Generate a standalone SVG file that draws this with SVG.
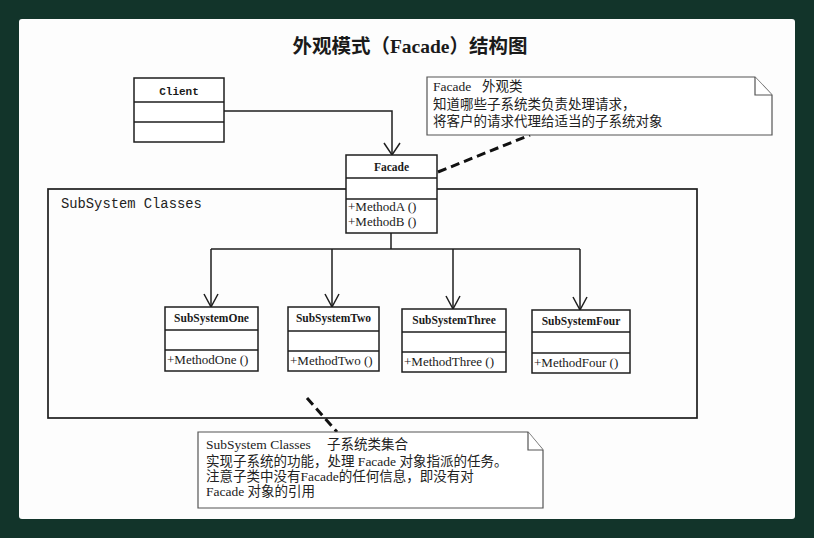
<svg xmlns="http://www.w3.org/2000/svg" width="814" height="538" viewBox="0 0 814 538">
<style>
.box{fill:#fff;stroke:#1e1e1e;stroke-width:1.5}
.ln{stroke:#1e1e1e;stroke-width:1.5;fill:none}
.pkg{fill:none;stroke:#1e1e1e;stroke-width:1.7}
.name{font-family:"Liberation Serif","Noto Sans CJK SC",serif;font-weight:bold;font-size:11.5px;text-anchor:middle;fill:#1a1a1a}
.meth{font-family:"Liberation Serif",serif;font-size:13px;fill:#1a1a1a}
.note{fill:#fff;stroke:#555;stroke-width:1.2}
.nt{font-family:"Liberation Serif","Noto Sans CJK SC",serif;font-size:13.5px;fill:#222}
.dash{stroke:#111;stroke-width:3;stroke-dasharray:9 5;fill:none}
.title{font-family:"Liberation Serif","Noto Sans CJK SC",serif;font-weight:bold;font-size:19.5px;fill:#1a1a1a;text-anchor:middle}
</style>
<rect x="0" y="0" width="814" height="538" fill="#12342a"/>
<rect x="19" y="19" width="776" height="500" rx="3" fill="#fdfdfd"/>

<text class="title" x="410" y="53">外观模式（Facade）结构图</text>

<g id="package">
<rect class="pkg" x="48" y="189" width="649" height="229"/>
<text x="61" y="208" font-family="Liberation Mono, monospace" font-size="13.8px" fill="#222">SubSystem Classes</text>
</g>

<g id="connectors">
<polyline class="ln" points="224,111 392,111 392,155"/>
<polyline class="ln" points="384,143 392,155 400,143"/>
<polyline class="ln" points="391,233 391,249"/>
<polyline class="ln" points="211,249 580,249"/>
<polyline class="ln" points="211,249 211,307"/>
<polyline class="ln" points="332,249 332,307"/>
<polyline class="ln" points="453,249 453,309"/>
<polyline class="ln" points="580,249 580,310"/>
<polyline class="ln" points="204,294 211,307 218,294"/>
<polyline class="ln" points="325,294 332,307 339,294"/>
<polyline class="ln" points="446,296 453,309 460,296"/>
<polyline class="ln" points="573,297 580,310 587,297"/>
<line class="dash" x1="438" y1="172" x2="530" y2="135"/>
<line class="dash" x1="307" y1="398" x2="337" y2="432"/>
</g>

<g id="client">
<rect class="box" x="134" y="78" width="90" height="64"/>
<line class="ln" x1="134" y1="102" x2="224" y2="102"/>
<line class="ln" x1="134" y1="122" x2="224" y2="122"/>
<text x="179" y="95" font-family="Liberation Mono, monospace" font-weight="bold" font-size="11px" text-anchor="middle" fill="#1a1a1a">Client</text>
</g>

<g id="facade">
<rect class="box" x="346" y="155" width="91" height="78"/>
<line class="ln" x1="346" y1="178" x2="437" y2="178"/>
<line class="ln" x1="346" y1="199" x2="437" y2="199"/>
<text class="name" x="391.5" y="171" font-size="12.5px">Facade</text>
<text class="meth" x="348" y="211">+MethodA ()</text>
<text class="meth" x="348" y="226">+MethodB ()</text>
</g>

<g id="subsystem-one">
<rect class="box" x="165" y="307" width="93" height="64"/>
<line class="ln" x1="165" y1="330" x2="258" y2="330"/>
<line class="ln" x1="165" y1="350" x2="258" y2="350"/>
<text class="name" x="211.5" y="322">SubSystemOne</text>
<text class="meth" x="167" y="364">+MethodOne ()</text>
</g>

<g id="subsystem-two">
<rect class="box" x="288" y="307" width="91" height="64"/>
<line class="ln" x1="288" y1="331" x2="379" y2="331"/>
<line class="ln" x1="288" y1="351" x2="379" y2="351"/>
<text class="name" x="333.5" y="322">SubSystemTwo</text>
<text class="meth" x="290" y="365">+MethodTwo ()</text>
</g>

<g id="subsystem-three">
<rect class="box" x="402" y="309" width="104" height="63"/>
<line class="ln" x1="402" y1="332" x2="506" y2="332"/>
<line class="ln" x1="402" y1="352" x2="506" y2="352"/>
<text class="name" x="454" y="324">SubSystemThree</text>
<text class="meth" x="404" y="366">+MethodThree ()</text>
</g>

<g id="subsystem-four">
<rect class="box" x="532" y="310" width="98" height="63"/>
<line class="ln" x1="532" y1="332" x2="630" y2="332"/>
<line class="ln" x1="532" y1="353" x2="630" y2="353"/>
<text class="name" x="581" y="325">SubSystemFour</text>
<text class="meth" x="534" y="367">+MethodFour ()</text>
</g>

<g id="note-facade">
<path class="note" d="M427,77 H755 L772,95 V135 H427 Z"/>
<path class="note" d="M755,77 V95 H772" fill="none"/>
<text class="nt" x="433" y="91">Facade<tspan x="482">外观类</tspan></text>
<text class="nt" x="433" y="109">知道哪些子系统类负责处理请求，</text>
<text class="nt" x="433" y="126">将客户的请求代理给适当的子系统对象</text>
</g>

<g id="note-subsystem">
<path class="note" d="M198,432 H528 L543,450 V508 H198 Z"/>
<path class="note" d="M528,432 V450 H543" fill="none"/>
<text class="nt" x="206" y="449">SubSystem Classes<tspan x="327">子系统类集合</tspan></text>
<text class="nt" x="206" y="466">实现子系统的功能，处理 Facade 对象指派的任务。</text>
<text class="nt" x="206" y="481">注意子类中没有Facade的任何信息，即没有对</text>
<text class="nt" x="206" y="496">Facade 对象的引用</text>
</g>
</svg>
